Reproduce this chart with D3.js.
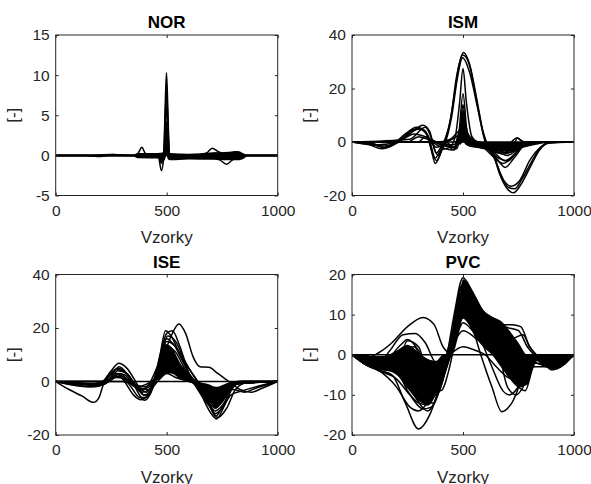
<!DOCTYPE html>
<html>
<head>
<meta charset="utf-8">
<script src="https://cdn.jsdelivr.net/npm/d3@7"></script>
<style>
  html, body { margin: 0; padding: 0; background: #fff; }
  svg text { font-family: "Liberation Sans", Arial, Helvetica, sans-serif; }
</style>
</head>
<body>
<svg id="chart" width="591" height="484"></svg>
<script>
// sample axis shared by all four panels
const xDomain = [0, 1000];
const xTicks = [0, 500, 1000];

// NOR beats: [sample, value]
const norCurves = [
  [[0,0],[140,0],[200,-0.15],[260,0.12],[300,0],[360,0],[372,0.3],[388,1.0],[402,0.3],[420,0],[462,-0.1],[476,-1.9],[486,-0.4],[493,6],[499,10.3],[505,6],[512,0],[522,-0.3],[560,-0.2],[640,0],[680,0.3],[705,0.9],[730,0.5],[760,0.2],[800,0.35],[845,0],[1000,0]],
  [[0,0],[150,0],[250,0.1],[360,0],[400,0.1],[465,-0.2],[476,-1.0],[486,-0.2],[493,4.5],[499,8.2],[505,4.5],[512,0],[525,-0.4],[600,-0.3],[680,-0.2],[740,-0.6],[770,-1.1],[795,-0.6],[815,-0.3],[850,0],[1000,0]],
  [[0,0],[360,0],[470,-0.3],[478,-0.8],[488,0],[494,3.5],[499,6.2],[505,3.5],[512,0],[540,-0.3],[640,-0.1],[720,0.3],[780,0.1],[810,0.45],[840,0],[1000,0]],
  [[0,0],[360,0],[470,-0.2],[480,-0.6],[490,0.5],[499,4.2],[508,0.5],[520,-0.3],[600,-0.3],[700,-0.2],[760,-0.5],[800,-0.3],[850,0],[1000,0]],
  [[0,0],[360,0],[470,-0.1],[482,-0.4],[491,0.5],[499,3],[507,0.5],[520,-0.2],[620,-0.1],[700,0.1],[790,-0.3],[820,0.3],[860,0],[1000,0]],
  [[0,0],[360,0],[475,-0.2],[492,0.3],[499,2],[506,0.3],[520,0],[650,0],[730,-0.3],[800,-0.4],[860,0],[1000,0]]
];
// dense NOR band: [sample, upper, lower]
const norBand = [[350,0,0],[370,0.3,-0.35],[460,0.3,-0.4],[485,0.4,-0.7],[492,2.5,-0.5],[499,3.2,0],[506,2.5,-0.5],[515,0.3,-0.6],[600,0.2,-0.5],[700,0.35,-0.55],[780,0.45,-0.6],[820,0.55,-0.6],[850,0.2,-0.35],[865,0,0]];

const ismCurves = [
  [[0,0],[60,-0.5],[135,-2.5],[190,-0.5],[240,3],[290,5.5],[330,4],[355,-2],[375,-8],[395,-5],[415,0],[440,7],[460,17],[480,28],[502,33.5],[530,29],[560,17],[590,4],[605,0],[635,-4],[665,-12],[695,-17],[728,-19],[760,-16],[805,-9],[845,-3],[885,-0.5],[1000,0]],
  [[0,0],[80,-0.5],[140,-2],[200,0],[260,3],[320,6.3],[350,4],[372,-3],[390,-5],[410,-1],[425,2],[445,9],[470,24],[500,32.5],[530,28.5],[560,16],[592,3],[605,0],[635,-4],[670,-12],[705,-17],[732,-17.5],[765,-14],[805,-8],[850,-2],[900,0],[1000,0]],
  [[0,0],[90,-0.5],[150,-2.2],[210,0],[270,4.5],[300,5],[335,3],[365,-5],[382,-7],[405,-3],[425,1],[450,10],[475,24],[498,31.5],[530,26],[565,13],[600,0],[640,-6],[680,-14],[718,-16.5],[755,-14.5],[800,-7],[855,-1.5],[900,0],[1000,0]],
  [[0,0],[120,-1],[200,0],[270,4],[310,5],[345,2],[375,-6],[400,-3],[440,-2],[465,2],[485,15],[500,27.5],[515,15],[540,2],[580,-1],[630,-5],[680,-8],[720,-6],[770,-1],[820,0],[1000,0]],
  [[0,0],[200,0],[280,3],[330,2],[380,0],[440,-2],[460,-3],[480,2],[500,18],[520,3],[550,0],[600,-2],[660,-6],[700,-7],[750,-3],[800,0],[1000,0]],
  [[0,0],[250,0],[300,2],[340,1],[400,-1],[460,-2],[485,3],[500,14],[515,4],[540,-1],[600,-2],[660,-4],[720,-3],[745,1.5],[770,0],[1000,0]],
  [[0,0],[300,0],[330,2],[380,-1],[450,-3],[480,0],[500,10],[520,1],[560,-1],[640,-3],[700,-5],[760,-2],[840,0],[1000,0]],
  [[0,0],[350,0],[380,-2],[420,-1],[460,-1],[500,7],[530,0],[600,-1],[680,-3],[760,-1.5],[860,0],[1000,0]],
  [[0,0],[380,0],[440,1],[500,5],[540,1],[600,-1],[650,-6],[690,-9.5],[730,-6],[780,-1],[830,0],[1000,0]],
  [[0,0],[150,-1.5],[220,0],[400,0],[470,2],[500,4],[540,0],[620,-2],[700,-4],[760,-2],[860,0],[1000,0]],
  [[0,0],[420,0],[500,3],[560,0],[640,-1],[700,-1],[742,1.5],[780,0],[1000,0]],
  [[0,0],[400,0],[460,-2],[500,8],[540,-1],[620,-3],[680,-4.5],[740,-3],[800,-0.5],[880,0],[1000,0]],
  [[0,0],[260,1],[330,5.5],[360,1],[380,-4],[420,0],[470,-2.5],[490,4],[500,12],[512,4],[560,0],[640,-4],[690,-7],[740,-4],[800,0],[1000,0]]
];
const ismBand = [[470,0,0],[488,6,-1],[500,11,0],[512,6,-1],[540,0.5,-2],[600,0,-2.5],[660,0,-3.5],[720,0,-3.5],[780,0,-2],[860,0,-0.6],[900,0,0]];

const iseCurves = [
  [[0,0],[60,-3],[120,-5.5],[170,-7.8],[195,-6],[215,-1],[240,2.5],[275,3],[310,0],[350,-5],[385,-6.8],[410,-5.5],[440,-1],[470,10],[500,18],[525,19],[560,13],[600,3],[640,-3],[690,-9],[720,-12],[750,-10],[790,-5],[840,-3.5],[900,-2],[1000,0]],
  [[0,0],[100,-1],[180,-1],[230,1],[280,5],[320,3],[360,-2],[390,-4],[420,-3],[450,2],[480,8],[520,17],[555,21.5],[585,18],[620,9],[650,5.5],[690,5.3],[730,3],[780,0],[830,-3],[880,-4],[930,-2.5],[1000,0]],
  [[0,0],[150,-1],[210,0],[250,4],[285,6.8],[320,5],[360,0],[395,-5],[420,-5],[440,0],[470,8],[500,16],[530,14],[570,8],[620,0],[670,-6],[720,-11],[750,-9],[800,-2],[840,0],[1000,0]],
  [[0,0],[170,-2],[230,-0.5],[280,4],[320,3],[370,-3],[400,-5],[430,-3],[460,5],[495,19],[520,17],[560,10],[600,3],[650,-4],[700,-12],[725,-14],[760,-9],[800,-2],[850,0],[1000,0]],
  [[0,0],[150,-2],[220,-1],[270,3],[310,2.5],[350,-1],[390,-3],[420,-1],[460,6],[500,13],[540,11],[580,5],[620,0],[680,-7],[720,-10],[760,-6],[800,-1],[1000,0]],
  [[0,0],[200,-1],[260,2],[290,3],[330,0],[380,-3],[420,-2],[460,3],[500,10],[540,8],[590,3],[640,-2],[700,-5],[740,-6],[790,-2],[830,0],[1000,0]],
  [[0,0],[220,0],[270,1.5],[310,1],[360,-2],[410,-1],[460,2],[500,6],[550,4],[600,1],[660,-3],[720,-4],[780,-1],[820,0],[1000,0]],
  [[0,0],[180,-1.5],[240,0],[280,2],[330,-1],[380,-6],[410,-6],[440,-2],[470,1],[500,3],[540,1.5],[600,0],[660,-2],[720,-13],[760,-8],[810,-1],[1000,0]],
  [[0,0],[100,-0.5],[200,-1],[270,4.5],[300,4],[340,1],[370,-4],[400,-7],[430,-4],[460,4],[500,15],[540,13],[590,6],[640,0],[690,-8],[730,-13.5],[770,-10],[810,-3],[860,-0.5],[1000,0]],
  [[0,0],[230,0],[280,2.5],[320,1],[370,-2],[420,-3],[450,0],[490,9],[520,9],[560,6],[610,2],[670,-5],[720,-8],[760,-6],[800,-1],[1000,0]],
  [[0,0],[300,0],[350,-1],[400,-2],[440,0],[480,4],[520,5],[580,2],[640,0],[700,-3],[760,-4],[800,-3],[850,-4],[900,-2.5],[960,-1],[1000,0]],
  [[0,0],[160,-1],[240,1],[285,5.5],[330,2],[370,-2],[410,-4],[440,0],[480,12],[505,17],[540,15],[580,8],[630,1],[680,-5],[730,-9],[780,-4],[820,0],[1000,0]]
];
const iseBand = [[440,0,0],[470,7,1],[495,14,3],[520,13,3],[560,7,1],[600,2,0],[640,0,-2.5],[690,-1,-7.5],[722,-2,-10],[760,-1,-6],[800,0,-0.8],[825,0,0]];

const pvcCurves = [
  [[0,0],[60,-1],[120,-3.5],[170,-2],[220,-4],[280,-9],[330,-12],[370,-12],[400,-6],[428,0],[460,10],[500,19.2],[540,16],[590,11],[640,9],[690,7],[750,6],[790,2],[820,0],[870,-2.5],[900,-3.3],[950,-2],[1000,0]],
  [[0,0],[80,-0.5],[120,0.5],[180,3],[250,7],[320,9.3],[370,7.5],[410,2],[440,0.5],[470,6],[500,12],[540,10],[600,8],[660,7.5],[720,7.5],[760,7],[800,2],[830,0],[900,-2.5],[1000,0]],
  [[0,0],[120,-3.8],[180,-5],[240,-12],[300,-18.5],[350,-15],[400,-7],[440,0],[480,8],[500,10],[540,7],[580,0],[630,-8],[675,-14.2],[720,-12],[780,-4],[820,0],[900,-3],[1000,0]],
  [[0,0],[120,-2],[170,1],[230,5],[285,5.3],[330,3],[380,-2],[420,-1],[450,3],[500,15],[540,13],[600,9],[660,7],[720,4],[770,5],[800,2],[830,0],[900,-3],[1000,0]],
  [[0,0],[120,-3.5],[200,-3],[250,3.5],[300,2],[350,-8],[380,-10],[420,-4],[450,4],[500,17.5],[540,14],[600,9],[650,8.5],[700,5],[760,-2],[800,-4],[830,-1],[900,-3.5],[1000,0]],
  [[0,0],[120,-4],[200,-6],[260,-10],[320,-13.5],[360,-13],[400,-8],[440,0],[480,10],[500,13],[540,11],[600,7],[660,1],[700,-8],[740,-10],[790,-6],[830,-1],[900,-3],[1000,0]],
  [[0,0],[100,-3],[200,-8],[260,-13],[300,-14],[350,-11],[410,-3],[450,5],[500,16],[550,13],[620,9],[680,5],[730,-1],[780,-6],[820,-2],[900,-3.3],[1000,0]],
  [[0,0],[120,-3],[220,2.5],[250,3.8],[300,1],[350,-5],[400,-9],[440,-3],[470,5],[500,10.5],[540,9],[600,5],[650,2],[700,-2],[760,-8],[800,-5],[830,-1],[900,-2],[1000,0]],
  [[0,0],[120,-3.5],[230,-2],[300,-6],[360,-10],[400,-7],[440,-1],[480,6],[500,8],[560,5],[620,3],[680,-3],[730,-7],[780,-9],[820,-3],[900,-3],[1000,0]],
  [[0,0],[120,-3.7],[200,-4],[250,-9],[300,-12],[340,-12.5],[380,-9],[420,-2],[460,7],[500,14],[540,12.5],[600,9.5],[660,8],[720,3],[780,-2],[820,-1],[900,-3],[1000,0]],
  [[0,0],[140,-2],[230,1],[280,2],[330,-4],[370,-7],[420,-3],[460,3],[500,6],[560,4],[620,1],[680,-2],[740,-5],[790,-4],[830,-1],[900,-2.5],[1000,0]],
  [[0,0],[120,-3],[200,-2],[280,-4],[340,-5],[400,-2],[440,0],[500,2],[560,1],[600,0],[650,-3],[720,-6],[800,-3],[840,0],[900,-2],[1000,0]],
  [[0,0],[120,-3.5],[180,-3],[240,-6],[290,-11],[340,-14],[370,-12],[410,-5],[450,3],[500,11],[560,9],[620,7],[680,6],[740,3],[800,-4],[840,-1],[900,-3.8],[1000,0]],
  [[0,0],[120,-2.5],[200,-1],[260,2],[300,0],[360,-6],[400,-5],[440,1],[480,9],[500,12],[540,10],[580,4],[630,-3],[680,-9],[710,-10],[760,-7],[810,-1],[900,-2.5],[1000,0]],
  [[0,0],[110,-3],[190,-1],[240,1],[280,-2],[330,-9],[360,-11],[400,-6],[440,2],[490,17],[510,18],[560,12],[620,8],[670,6],[730,0],[780,-5],[820,-2],[900,-3],[1000,0]]
];
const pvcBands = [
  [[0,0,0],[50,0,-1.5],[100,-0.3,-3.5],[140,-0.3,-3.8],[200,1,-5],[250,2.5,-8.5],[300,0.5,-11.5],[340,-1,-12.5],[380,-1.5,-9.5],[410,0,-4],[440,0,0]],
  [[440,0,0],[460,5,1],[480,12,5],[500,18.8,9],[520,18,8],[550,15,5],[590,11,2],[630,9.5,0],[670,8.5,-3],[710,6,-6],[750,3,-8],[790,0,-7.5],[815,0,-3],[830,0,0]],
  [[810,0,0],[840,0,-1.8],[880,0,-3],[920,0,-3.5],[960,0,-2.5],[1000,0,0]]
];

const norTicks = [-5, 0, 5, 10, 15];
const ismTicks = [-20, 0, 20, 40];
const iseTicks = [-20, 0, 20, 40];
const pvcTicks = [-20, -10, 0, 10, 20];

const panels = [
  { title: 'NOR', curves: norCurves, bands: [norBand], yDomain: [-5, 15], yTicks: norTicks, x0: 55.7, y0: 35 },
  { title: 'ISM', curves: ismCurves, bands: [ismBand], yDomain: [-20, 40], yTicks: ismTicks, x0: 352, y0: 35 },
  { title: 'ISE', curves: iseCurves, bands: [iseBand], yDomain: [-20, 40], yTicks: iseTicks, x0: 55.7, y0: 274.5 },
  { title: 'PVC', curves: pvcCurves, bands: pvcBands, yDomain: [-20, 20], yTicks: pvcTicks, x0: 352, y0: 274.5 }
];
const PW = 222, PH = 160.5;
const fmt = d => String(d);

const svg = d3.select('#chart');

panels.forEach((p, idx) => {
  const g = svg.append('g').attr('transform', `translate(${p.x0},${p.y0})`);
  const x = d3.scaleLinear().domain(xDomain).range([0, PW]);
  const y = d3.scaleLinear().domain(p.yDomain).range([PH, 0]);

  const clipId = 'clip' + idx;
  g.append('clipPath').attr('id', clipId).append('rect').attr('width', PW).attr('height', PH);
  const plot = g.append('g').attr('clip-path', `url(#${clipId})`);

  const area = d3.area().x(d => x(d[0])).y0(d => y(d[2])).y1(d => y(d[1])).curve(d3.curveMonotoneX);
  p.bands.forEach(b => {
    plot.append('path').attr('d', area(b)).attr('fill', '#000');
  });

  const line = d3.line().x(d => x(d[0])).y(d => y(d[1])).curve(d3.curveMonotoneX);
  p.curves.forEach(c => {
    plot.append('path').attr('d', line(c)).attr('fill', 'none')
      .attr('stroke', '#000').attr('stroke-width', 1.5).attr('stroke-linejoin', 'round');
  });
  // zero padded baseline shared by all beats
  plot.append('path').attr('d', line([[0, 0], [1000, 0]]))
    .attr('fill', 'none').attr('stroke', '#000').attr('stroke-width', 1.5);

  // axes: MATLAB style box with inward ticks on all four sides
  const tickCol = '#262626';
  const left = g.append('g').call(d3.axisLeft(y).tickValues(p.yTicks).tickFormat(fmt).tickSize(-3).tickPadding(6).tickSizeOuter(0));
  const right = g.append('g').attr('transform', `translate(${PW},0)`)
    .call(d3.axisRight(y).tickValues(p.yTicks).tickFormat('').tickSize(-3).tickSizeOuter(0));
  const bottom = g.append('g').attr('transform', `translate(0,${PH})`)
    .call(d3.axisBottom(x).tickValues(xTicks).tickFormat(fmt).tickSize(-3).tickPadding(9).tickSizeOuter(0));
  const top = g.append('g')
    .call(d3.axisTop(x).tickValues(xTicks).tickFormat('').tickSize(-3).tickSizeOuter(0));
  [left, right, bottom, top].forEach(a => {
    a.select('.domain').remove();
    a.selectAll('line').attr('stroke', tickCol);
    a.selectAll('text').attr('fill', tickCol).style('font-size', '15.5px')
      .style('font-family', '"Liberation Sans", Arial, Helvetica, sans-serif');
  });
  g.append('rect').attr('width', PW).attr('height', PH)
    .attr('fill', 'none').attr('stroke', tickCol).attr('stroke-width', 1);

  g.append('text').attr('x', PW / 2).attr('y', -7).attr('text-anchor', 'middle')
    .attr('font-size', 17).attr('font-weight', 'bold').attr('fill', '#000').text(p.title);
  g.append('text').attr('x', PW / 2).attr('y', PH + 47.5).attr('text-anchor', 'middle')
    .attr('font-size', 17).attr('fill', tickCol).text('Vzorky');
  g.append('text').attr('transform', `translate(-37,${PH / 2}) rotate(-90)`).attr('text-anchor', 'middle')
    .attr('font-size', 17).attr('fill', tickCol).text('[-]');
});
</script>
</body>
</html>
